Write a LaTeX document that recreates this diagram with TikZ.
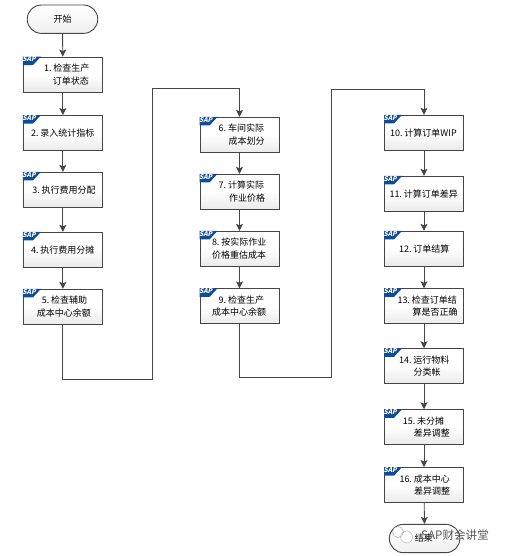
\documentclass[tikz,border=0pt]{standalone}
\usepackage{fontspec}
\setmainfont{Noto Sans CJK SC}
\usetikzlibrary{arrows.meta}
\definecolor{lineclr}{HTML}{454545}
\definecolor{sapblue}{HTML}{0F4C96}
\definecolor{wmclr}{HTML}{5A5A5A}
\tikzset{
  stepbox/.style={draw=lineclr,line width=0.9pt,top color=white,bottom color=black!8,middle color=white,
    minimum width=79pt,text width=79pt,minimum height=35pt,inner sep=0pt,align=left,
    font=\fontsize{9}{12.5}\selectfont,text=black},
  term/.style={draw=lineclr,line width=0.9pt,top color=white,bottom color=black!6,rounded corners=14pt,
    minimum width=70.5pt,minimum height=28.3pt,inner sep=0pt,font=\fontsize{9}{12}\selectfont,text=black},
  link/.style={draw=lineclr,line width=0.9pt},
  flow/.style={link,-{Stealth[length=7pt,width=7pt,inset=1.5pt]}},
  saptag/.style={inner sep=0pt,text=white,font=\fontsize{6.6}{7}\selectfont\bfseries},
  watermark/.style={inner sep=0pt,text=wmclr,font=\fontsize{11.6}{13}\selectfont}
}
\newcommand{\ind}[1]{\hspace*{#1pt}}
\newcommand{\gap}{\hspace{1.8pt}}
\begin{document}
\begin{tikzpicture}[x=1pt,y=-1pt]
\useasboundingbox (0,0) rectangle (504,556);
\node[term] (start) at (62.5,19.2) {开始};
\node[stepbox] (b1) at (62.9,74.5) {\ind{20.7}1.\gap 检查生产\\\ind{29.4}订单状态};
\node[stepbox] (b2) at (62.9,133) {\ind{7.7}2.\gap 录入统计指标};
\node[stepbox] (b3) at (62.9,189.8) {\ind{9}3.\gap 执行费用分配};
\node[stepbox] (b4) at (62.9,249.8) {\ind{7.7}4.\gap 执行费用分摊};
\node[stepbox] (b5) at (62.9,306.8) {\ind{18.4}5.\gap 检查辅助\\\ind{13.4}成本中心余额};
\node[stepbox] (b6) at (239.5,134.8) {\ind{18.7}6.\gap 车间实际\\\ind{28.7}成本划分};
\node[stepbox] (b7) at (239.5,191.8) {\ind{18.7}7.\gap 计算实际\\\ind{29}作业价格};
\node[stepbox] (b8) at (239.5,248.8) {\ind{12}8.\gap 按实际作业\\\ind{12}价格重估成本};
\node[stepbox] (b9) at (239.5,306.3) {\ind{18.7}9.\gap 检查生产\\\ind{12}成本中心余额};
\node[stepbox] (b10) at (424,132.8) {\ind{5.7}10.\gap 计算订单WIP};
\node[stepbox] (b11) at (424,193.8) {\ind{5}11.\gap 计算订单差异};
\node[stepbox] (b12) at (424,248.8) {\ind{14.7}12.\gap 订单结算};
\node[stepbox] (b13) at (424,306.3) {\ind{13}13.\gap 检查订单结\\\ind{28}算是否正确};
\node[stepbox] (b14) at (424,366.2) {\ind{14.7}14.\gap 运行物料\\\ind{29}分类帐};
\node[stepbox] (b15) at (424,427.2) {\ind{18.4}15.\gap 未分摊\\\ind{29.4}差异调整};
\node[stepbox] (b16) at (424,485) {\ind{15}16.\gap 成本中心\\\ind{29.7}差异调整};
\node[term,text width=70.5pt,align=left] (end) at (424.6,538.5) {\ind{25.5}结束};
\foreach \b in {b1,b2,b3,b4,b5,b6,b7,b8,b9,b10,b11,b12,b13,b14,b15,b16}{
  \fill[sapblue] (\b.north west) -- ++(18,0) -- ++(-8,8.5) -- ++(-10,0) -- cycle;
  \node[saptag,anchor=north west,xslant=0.25] (\b tag) at ([xshift=0.6pt,yshift=0pt]\b.north west) {SAP};
}
\coordinate (c1a) at (152.5,379.3);
\coordinate (c1b) at (152.5,88);
\coordinate (c2a) at (331.3,377.3);
\coordinate (c2b) at (331.3,89);
\draw[flow] (start) -- (b1);
\draw[flow] (b1) -- (b2);
\draw[flow] (b2) -- (b3);
\draw[flow] (b3) -- (b4);
\draw[flow] (b4) -- (b5);
\draw[flow] (b5.south) |- (c1a) -- (c1b) -| (b6.north);
\draw[flow] (b6) -- (b7);
\draw[flow] (b7) -- (b8);
\draw[flow] (b8) -- (b9);
\draw[flow] (b9.south) |- (c2a) -- (c2b) -| (b10.north);
\draw[flow] (b10) -- (b11);
\draw[flow] (b11) -- (b12);
\draw[flow] (b12) -- (b13);
\draw[flow] (b13) -- (b14);
\draw[flow] (b14) -- (b15);
\draw[flow] (b15) -- (b16);
\draw[flow] (b16) -- (end);
\fill[white] (398,532) circle (5.5pt);
\fill[white] (406.5,537) circle (6pt);
\draw[black!30,line width=0.5pt] (398,532) circle (5.5pt);
\draw[black!30,line width=0.5pt] (406.5,537) circle (6pt);
\node[watermark,anchor=west] (wm) at (421,535) {SAP财会讲堂};
\end{tikzpicture}
\end{document}
